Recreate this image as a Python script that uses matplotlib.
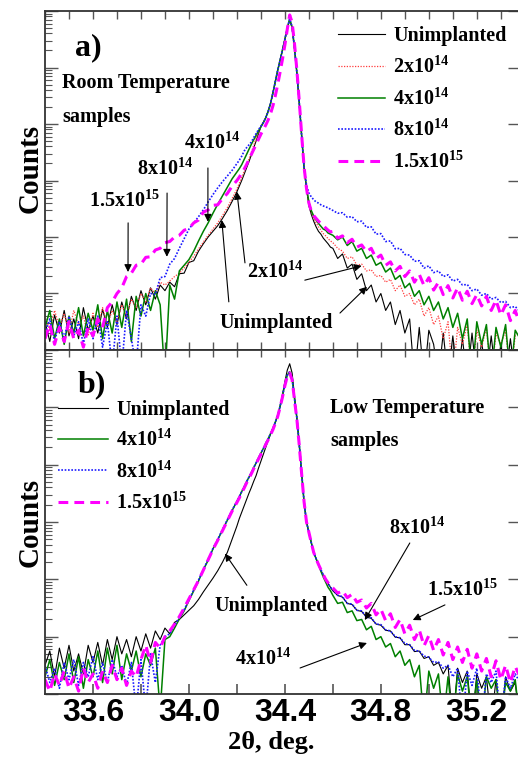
import numpy as np
import matplotlib
matplotlib.use("Agg")
import matplotlib.pyplot as plt
from matplotlib.ticker import LogLocator, NullFormatter, MultipleLocator, FixedLocator
from matplotlib import font_manager

# ---------------- data (2theta in deg, log10 of counts) ----------------
two_theta = [33.40, 33.42, 33.44, 33.46, 33.48, 33.50, 33.52, 33.54, 33.56, 33.58,
             33.60, 33.62, 33.64, 33.66, 33.68, 33.70, 33.72, 33.74, 33.76, 33.78,
             33.80, 33.82, 33.84, 33.86, 33.88, 33.90, 33.92, 33.94, 33.96, 33.98,
             34.00, 34.02, 34.04, 34.06, 34.08, 34.10, 34.12, 34.14, 34.16, 34.18,
             34.20, 34.21, 34.22, 34.23, 34.24, 34.25, 34.26, 34.27, 34.28, 34.29,
             34.30, 34.31, 34.32, 34.33, 34.34, 34.35, 34.36, 34.37, 34.38, 34.39,
             34.40, 34.41, 34.42, 34.43, 34.44, 34.45, 34.46, 34.47, 34.48, 34.49,
             34.50, 34.51, 34.52, 34.53, 34.54, 34.55, 34.56, 34.57, 34.58, 34.59,
             34.60, 34.62, 34.64, 34.66, 34.68, 34.70, 34.72, 34.74, 34.76, 34.78,
             34.80, 34.82, 34.84, 34.86, 34.88, 34.90, 34.92, 34.94, 34.96, 34.98,
             35.00, 35.02, 35.04, 35.06, 35.08, 35.10, 35.12, 35.14, 35.16, 35.18,
             35.20, 35.22, 35.24, 35.26, 35.28, 35.30, 35.32, 35.34, 35.36, 35.38]

labels = ["Unimplanted", r"2x10$^{14}$", r"4x10$^{14}$", r"8x10$^{14}$", r"1.5x10$^{15}$"]

# Panel a) room temperature samples
a_unimplanted = [0.50, 0.15, 0.62, 0.30, 0.70, 0.25, 0.55, 0.20, 0.75, 0.35,
                 0.60, 0.30, 0.72, 0.40, 0.80, 0.45, 0.85, 0.55, 0.95, 0.70,
                 1.05, 0.80, 1.10, 0.90, 1.15, 1.05, 1.20, 1.12, 1.35, 1.36,
                 1.55, 1.58, 1.75, 1.88, 2.00, 2.10, 2.20, 2.33, 2.47, 2.63,
                 2.80, 2.90, 3.00, 3.11, 3.22, 3.33, 3.45, 3.58, 3.70, 3.83,
                 3.95, 4.03, 4.11, 4.22, 4.36, 4.55, 4.75, 4.95, 5.13, 5.31,
                 5.50, 5.70, 5.84, 5.70, 5.33, 4.90, 4.37, 3.78, 3.22, 2.85,
                 2.55, 2.40, 2.28, 2.18, 2.10, 2.05, 1.98, 1.93, 1.88, 1.82,
                 1.80, 1.62, 1.70, 1.45, 1.52, 1.25, 1.35, 1.05, 1.15, 0.85,
                 1.00, 0.70, 0.85, 0.45, 0.70, 0.30, 0.55, -0.5, 0.40, -0.5,
                 0.35, 0.10, -0.5, 0.30, -0.5, 0.25, -0.5, 0.20, -0.5, 0.30,
                 -0.5, 0.15, -0.5, 0.25, -0.5, 0.10, -0.5, 0.20, -0.5, 0.15]
a_2e14 = [0.60, 0.35, 0.70, 0.40, 0.65, 0.30, 0.70, 0.45, 0.60, 0.25,
          0.65, 0.40, 0.75, 0.45, 0.70, 0.50, 0.80, 0.60, 0.90, 0.75,
          1.00, 0.85, 1.10, 1.00, 1.20, 1.15, 1.22, 1.30, 1.36, 1.45,
          1.55, 1.66, 1.79, 1.91, 2.03, 2.14, 2.25, 2.38, 2.52, 2.68,
          2.85, 2.95, 3.05, 3.16, 3.27, 3.38, 3.50, 3.62, 3.74, 3.86,
          3.96, 4.03, 4.11, 4.22, 4.36, 4.55, 4.75, 4.95, 5.13, 5.31,
          5.50, 5.70, 5.85, 5.71, 5.34, 4.90, 4.37, 3.78, 3.22, 2.86,
          2.58, 2.44, 2.33, 2.25, 2.18, 2.12, 2.06, 2.02, 1.97, 1.93,
          1.90, 1.80, 1.75, 1.62, 1.65, 1.50, 1.52, 1.40, 1.42, 1.30,
          1.32, 1.20, 1.25, 1.05, 1.15, 0.95, 1.00, 0.80, 0.90, 0.60,
          0.75, 0.45, 0.60, 0.20, 0.50, -0.5, 0.40, 0.10, 0.45, -0.5,
          0.35, 0.05, 0.40, -0.5, 0.30, 0.10, 0.35, -0.5, 0.25, 0.30]
a_4e14 = [0.40, 0.70, 0.20, 0.55, 0.10, 0.60, 0.30, 0.75, 0.25, 0.65,
          0.35, 0.80, 0.20, 0.70, 0.30, 0.85, 0.40, 0.90, 0.15, 0.95,
          0.60, 1.00, 0.70, 1.05, 0.80, -0.5, 1.15, 0.90, 1.40, 1.50,
          1.60, 1.75, 1.93, 2.10, 2.25, 2.42, 2.58, 2.73, 2.88, 3.03,
          3.15, 3.21, 3.28, 3.37, 3.46, 3.55, 3.64, 3.72, 3.80, 3.88,
          3.95, 4.02, 4.11, 4.22, 4.36, 4.55, 4.75, 4.95, 5.13, 5.31,
          5.50, 5.70, 5.86, 5.72, 5.35, 4.90, 4.37, 3.78, 3.22, 2.88,
          2.62, 2.47, 2.37, 2.30, 2.24, 2.19, 2.14, 2.12, 2.07, 2.05,
          2.03, 1.95, 2.00, 1.85, 1.92, 1.75, 1.80, 1.62, 1.68, 1.50,
          1.55, 1.38, 1.45, 1.25, 1.32, 1.10, 1.18, 0.95, 1.05, 0.80,
          0.95, 0.70, 0.85, 0.55, 0.75, 0.40, 0.65, 0.20, 0.55, -0.5,
          0.50, 0.10, 0.45, -0.5, 0.40, 0.05, 0.45, -0.5, 0.35, 0.20]
a_8e14 = [0.30, 0.55, 0.15, 0.50, 0.20, 0.60, 0.25, 0.50, 0.10, 0.55,
          0.20, 0.60, 0.05, 0.50, -0.3, 0.60, -0.3, 0.70, 0.20, -0.3,
          0.80, 0.60, 1.00, 0.98, 1.28, 1.30, 1.52, 1.62, 1.80, 1.97,
          2.14, 2.25, 2.36, 2.48, 2.62, 2.75, 2.87, 2.98, 3.08, 3.18,
          3.30, 3.36, 3.43, 3.52, 3.58, 3.63, 3.68, 3.76, 3.83, 3.90,
          3.96, 4.02, 4.11, 4.22, 4.36, 4.55, 4.75, 4.95, 5.13, 5.31,
          5.50, 5.70, 5.86, 5.72, 5.35, 4.90, 4.37, 3.78, 3.22, 2.92,
          2.78, 2.71, 2.66, 2.62, 2.60, 2.57, 2.55, 2.53, 2.52, 2.49,
          2.47, 2.42, 2.43, 2.35, 2.36, 2.27, 2.28, 2.17, 2.18, 2.05,
          2.06, 1.92, 1.93, 1.79, 1.80, 1.69, 1.68, 1.57, 1.58, 1.45,
          1.49, 1.37, 1.40, 1.30, 1.33, 1.22, 1.25, 1.15, 1.16, 1.05,
          1.08, 0.97, 1.00, 0.90, 0.93, 0.84, 0.86, 0.75, 0.77, 0.68]
a_15e15 = [0.20, 0.45, 0.10, 0.40, 0.15, 0.50, 0.20, 0.35, 0.05, 0.40,
           0.25, 0.55, 0.40, 0.75, 0.85, 1.00, 1.10, 1.30, 1.36, 1.50,
           1.52, 1.64, 1.65, 1.77, 1.80, 1.90, 1.92, 2.00, 2.03, 2.12,
           2.15, 2.25, 2.30, 2.44, 2.48, 2.56, 2.57, 2.68, 2.77, 2.90,
           3.00, 3.06, 3.13, 3.20, 3.28, 3.37, 3.46, 3.55, 3.64, 3.73,
           3.82, 3.90, 3.98, 4.07, 4.18, 4.32, 4.50, 4.70, 4.92, 5.15,
           5.40, 5.68, 5.93, 5.80, 5.42, 4.95, 4.40, 3.80, 3.24, 2.86,
           2.60, 2.46, 2.38, 2.33, 2.28, 2.24, 2.20, 2.16, 2.12, 2.09,
           2.10, 1.98, 2.02, 1.90, 1.96, 1.82, 1.86, 1.74, 1.80, 1.62,
           1.68, 1.50, 1.56, 1.40, 1.48, 1.30, 1.40, 1.20, 1.34, 1.14,
           1.28, 1.06, 1.20, 0.98, 1.14, 0.92, 1.10, 0.88, 1.04, 0.82,
           0.98, 0.78, 0.95, 0.70, 0.88, 0.62, 0.80, 0.52, 0.70, 0.45]

# Panel b) low temperature samples
b_unimplanted = [0.50, 0.75, 0.30, 0.80, 0.45, 0.85, 0.40, 0.70, 0.35, 0.85,
                 0.55, 0.90, 0.50, 0.95, 0.60, 1.00, 0.70, 0.95, 0.65, 1.00,
                 0.75, 1.05, 0.80, 1.10, 0.95, 1.15, 1.05, 1.25, 1.30, 1.38,
                 1.46, 1.54, 1.65, 1.78, 1.90, 2.02, 2.15, 2.30, 2.47, 2.70,
                 2.93, 3.06, 3.17, 3.28, 3.39, 3.50, 3.60, 3.71, 3.81, 3.94,
                 4.06, 4.18, 4.30, 4.42, 4.53, 4.63, 4.74, 4.86, 5.02, 5.22,
                 5.45, 5.65, 5.76, 5.60, 5.20, 4.81, 4.33, 3.83, 3.33, 3.00,
                 2.82, 2.64, 2.47, 2.36, 2.26, 2.16, 2.07, 2.00, 1.93, 1.86,
                 1.80, 1.72, 1.69, 1.58, 1.56, 1.46, 1.44, 1.34, 1.32, 1.22,
                 1.20, 1.11, 1.10, 0.99, 0.98, 0.86, 0.86, 0.74, 0.75, 0.62,
                 0.65, 0.50, 0.55, 0.35, 0.50, -0.5, 0.45, 0.20, 0.40, -0.5,
                 0.35, 0.10, 0.30, -0.5, 0.25, -0.5, 0.30, 0.05, 0.20, -0.5]
b_4e14 = [0.30, 0.60, 0.15, 0.55, 0.25, 0.70, 0.20, 0.65, 0.10, 0.60,
          0.30, 0.75, 0.20, 0.80, 0.35, 0.85, 0.25, 0.70, 0.40, 0.75,
          0.30, 0.70, 0.50, 0.80, -0.3, 0.95, 1.00, 1.15, 1.31, 1.45,
          1.63, 1.80, 1.97, 2.17, 2.33, 2.53, 2.69, 2.86, 3.03, 3.20,
          3.36, 3.44, 3.53, 3.61, 3.70, 3.78, 3.86, 3.95, 4.03, 4.12,
          4.20, 4.28, 4.37, 4.45, 4.54, 4.63, 4.74, 4.86, 5.02, 5.20,
          5.40, 5.56, 5.62, 5.50, 5.15, 4.81, 4.35, 3.85, 3.35, 3.00,
          2.82, 2.64, 2.47, 2.36, 2.26, 2.14, 2.04, 1.95, 1.86, 1.80,
          1.72, 1.58, 1.60, 1.42, 1.45, 1.28, 1.30, 1.12, 1.18, 0.95,
          1.00, 0.82, 0.88, 0.65, 0.75, 0.50, 0.60, 0.30, 0.50, -0.5,
          0.40, 0.10, 0.35, -0.5, 0.30, -0.5, 0.35, 0.05, 0.30, -0.5,
          0.25, -0.5, 0.30, 0.10, 0.25, -0.5, 0.20, 0.05, 0.25, -0.5]
b_8e14 = [0.50, 0.20, 0.45, 0.10, 0.55, 0.25, 0.60, 0.15, 0.55, 0.30,
          0.65, 0.25, 0.55, 0.20, 0.60, 0.30, 0.50, 0.15, 0.55, -0.3,
          0.60, -0.3, 0.70, 0.20, 0.85, 1.00, 1.05, 1.20, 1.33, 1.47,
          1.64, 1.82, 1.99, 2.17, 2.35, 2.54, 2.70, 2.87, 3.04, 3.21,
          3.36, 3.44, 3.53, 3.61, 3.70, 3.78, 3.86, 3.95, 4.03, 4.12,
          4.20, 4.28, 4.37, 4.45, 4.54, 4.63, 4.74, 4.86, 5.02, 5.20,
          5.40, 5.56, 5.62, 5.50, 5.15, 4.81, 4.35, 3.85, 3.35, 3.00,
          2.82, 2.64, 2.47, 2.36, 2.26, 2.17, 2.08, 2.00, 1.93, 1.86,
          1.82, 1.72, 1.70, 1.58, 1.57, 1.46, 1.45, 1.34, 1.33, 1.22,
          1.21, 1.12, 1.10, 1.00, 0.98, 0.88, 0.86, 0.76, 0.75, 0.66,
          0.64, 0.55, 0.56, 0.45, 0.50, 0.30, 0.45, -0.5, 0.40, 0.15,
          0.45, -0.5, 0.35, 0.20, 0.40, -0.5, 0.30, 0.10, 0.35, 0.20]
b_15e15 = [0.25, 0.05, 0.35, 0.15, 0.40, 0.10, 0.30, 0.05, 0.45, 0.20,
           0.35, 0.10, 0.40, 0.20, 0.50, 0.25, 0.45, 0.15, 0.40, 0.30,
           0.60, 0.85, 0.55, 0.90, 0.80, 1.00, 1.10, 1.22, 1.35, 1.50,
           1.66, 1.82, 1.98, 2.16, 2.34, 2.52, 2.68, 2.85, 3.02, 3.19,
           3.34, 3.42, 3.51, 3.59, 3.68, 3.76, 3.84, 3.93, 4.01, 4.10,
           4.18, 4.26, 4.35, 4.43, 4.52, 4.61, 4.72, 4.84, 5.00, 5.18,
           5.38, 5.54, 5.60, 5.48, 5.13, 4.79, 4.33, 3.83, 3.35, 3.00,
           2.82, 2.64, 2.47, 2.36, 2.26, 2.17, 2.08, 2.00, 1.94, 1.88,
           1.85, 1.76, 1.80, 1.68, 1.74, 1.60, 1.64, 1.50, 1.58, 1.38,
           1.48, 1.28, 1.40, 1.16, 1.30, 1.05, 1.20, 0.95, 1.12, 0.84,
           1.02, 0.76, 0.95, 0.68, 0.90, 0.60, 0.82, 0.55, 0.78, 0.45,
           0.70, 0.40, 0.62, 0.30, 0.58, 0.25, 0.50, 0.20, 0.48, 0.30]

for s in (a_unimplanted, a_2e14, a_4e14, a_8e14, a_15e15,
          b_unimplanted, b_4e14, b_8e14, b_15e15):
    assert len(s) == len(two_theta)

# ---------------- styling ----------------
plt.rcParams["font.family"] = ["Liberation Serif", "DejaVu Serif"]
plt.rcParams["font.weight"] = "bold"
plt.rcParams["mathtext.fontset"] = "custom"
plt.rcParams["mathtext.rm"] = "Liberation Serif:bold"
plt.rcParams["mathtext.it"] = "Liberation Serif:italic:bold"
plt.rcParams["mathtext.bf"] = "Liberation Serif:bold"

try:
    font_manager.findfont(font_manager.FontProperties(family="Liberation Sans Narrow", weight="bold"),
                          fallback_to_default=False)
    tick_family = "Liberation Sans Narrow"
except Exception:
    tick_family = "Liberation Sans"

styles = [dict(color="black", lw=0.8, ls="-"),
          dict(color="#ff3c3c", lw=0.9, ls=(0, (1, 1.2))),
          dict(color="#008000", lw=1.1, ls="-"),
          dict(color="#1a1aff", lw=1.2, ls=(0, (1, 1))),
          dict(color="#ff00ff", lw=2.2, ls=(0, (3.2, 2)))]

W, H = 518, 758
fig = plt.figure(figsize=(W / 100, H / 100), dpi=100)
ax_a = fig.add_axes([45 / W, 1 - 350 / H, 475 / W, 339 / H])
ax_b = fig.add_axes([45 / W, 1 - 694 / H, 475 / W, 344 / H])

x = np.array(two_theta)
for vals, lab, st in zip([a_unimplanted, a_2e14, a_4e14, a_8e14, a_15e15], labels, styles):
    ax_a.plot(x, 10 ** np.array(vals), label=lab, **st)
for vals, lab, st in zip([b_unimplanted, b_4e14, b_8e14, b_15e15],
                         [labels[0], labels[2], labels[3], labels[4]],
                         [styles[0], styles[2], styles[3], styles[4]]):
    ax_b.plot(x, 10 ** np.array(vals), label=lab, **st)

spine_col = "#333333"
tick_col = "#555555"
for ax in (ax_a, ax_b):
    ax.set_yscale("log")
    ax.set_ylim(1, 1e6)
    ax.set_xlim(33.4, 35.38)
    for sp in ax.spines.values():
        sp.set_color(spine_col)
        sp.set_linewidth(1.3)
    ax.yaxis.set_major_locator(LogLocator(base=10, numticks=10))
    ax.yaxis.set_minor_locator(LogLocator(base=10, subs=np.arange(2, 10), numticks=30))
    ax.yaxis.set_major_formatter(NullFormatter())
    ax.yaxis.set_minor_formatter(NullFormatter())
    ax.tick_params(axis="y", which="major", direction="in", length=9, width=1,
                   color=tick_col, left=True, right=True)
    ax.tick_params(axis="y", which="minor", direction="in", length=5, width=0.8,
                   color=tick_col, left=True, right=False)

ax_a.xaxis.set_major_locator(MultipleLocator(0.1))
ax_a.xaxis.set_minor_locator(FixedLocator([]))
ax_a.tick_params(axis="x", which="major", direction="in", length=6, width=1,
                 color=tick_col, top=True, bottom=True, labelbottom=False)

ax_b.xaxis.set_major_locator(FixedLocator([33.6, 34.0, 34.4, 34.8, 35.2]))
ax_b.xaxis.set_minor_locator(FixedLocator([33.8, 34.2, 34.6, 35.0]))
ax_b.tick_params(axis="x", which="both", direction="in", length=7, width=1.2,
                 color=tick_col, top=False, bottom=True, pad=3)
ax_b.set_xticklabels(["33.6", "34.0", "34.4", "34.8", "35.2"],
                     fontfamily=tick_family, fontweight="bold", fontsize=23)
sec = ax_b.secondary_xaxis("top")
sec.xaxis.set_major_locator(MultipleLocator(0.1))
sec.tick_params(axis="x", direction="in", length=5, width=1, color=tick_col, labeltop=False)
sec.spines["top"].set_visible(False)

# labels
fs = 14.5
fig.text(30 / W, 1 - 168 / H, "Counts", rotation=90, ha="center", va="center", fontsize=21)
fig.text(30 / W, 1 - 522 / H, "Counts", rotation=90, ha="center", va="center", fontsize=21)
fig.text(271 / W, 1 - 742 / H, "2θ, deg.", ha="center", va="center", fontsize=19)

ax_a.text(0.0905, 0.891, "a)", transform=ax_a.transAxes, ha="center", va="center", fontsize=23)
ax_b.text(0.099, 0.898, "b)", transform=ax_b.transAxes, ha="center", va="center", fontsize=23)
ax_a.text(0.036, 0.788, "Room Temperature", transform=ax_a.transAxes, ha="left", va="center", fontsize=fs)
ax_a.text(0.036, 0.687, "samples", transform=ax_a.transAxes, ha="left", va="center", fontsize=fs)
ax_b.text(0.60, 0.831, "Low Temperature", transform=ax_b.transAxes, ha="left", va="center", fontsize=fs)
ax_b.text(0.60, 0.735, "samples", transform=ax_b.transAxes, ha="left", va="center", fontsize=fs)

leg_a = ax_a.legend(loc="upper left", bbox_to_anchor=(0.617, 0.955), frameon=False, fontsize=fs,
                    handlelength=2.35, handletextpad=0.4, labelspacing=0.52,
                    borderpad=0, borderaxespad=0)
leg_b = ax_b.legend(loc="upper left", bbox_to_anchor=(0.027, 0.855), frameon=False, fontsize=fs,
                    handlelength=2.5, handletextpad=0.4, labelspacing=0.5,
                    borderpad=0, borderaxespad=0)

arrow = dict(arrowstyle="-|>", color="black", lw=0.8, mutation_scale=11, shrinkA=0, shrinkB=0)

def note(ax, text, pos):
    ax.text(pos[0], pos[1], text, transform=ax.transAxes, ha="center", va="center", fontsize=fs)

def arr(ax, tail, tip_d, tip_log):
    ax.annotate("", xy=(tip_d, 10 ** tip_log), xycoords="data",
                xytext=tail, textcoords="axes fraction", arrowprops=arrow)

# panel a annotations
note(ax_a, r"4x10$^{14}$", (0.352, 0.611))
note(ax_a, r"8x10$^{14}$", (0.253, 0.534))
note(ax_a, r"1.5x10$^{15}$", (0.168, 0.44))
note(ax_a, r"2x10$^{14}$", (0.484, 0.230))
note(ax_a, "Unimplanted", (0.486, 0.080))
arr(ax_a, (0.175, 0.375), 33.746, 1.38)
arr(ax_a, (0.257, 0.463), 33.908, 1.65)
arr(ax_a, (0.343, 0.537), 34.079, 2.27)
arr(ax_a, (0.421, 0.257), 34.20, 2.80)
arr(ax_a, (0.547, 0.206), 34.72, 1.49)
arr(ax_a, (0.387, 0.142), 34.137, 2.30)
arr(ax_a, (0.621, 0.109), 34.742, 1.12)

# panel b annotations
note(ax_b, "Unimplanted", (0.476, 0.256))
note(ax_b, r"8x10$^{14}$", (0.783, 0.483))
note(ax_b, r"1.5x10$^{15}$", (0.88, 0.302))
note(ax_b, r"4x10$^{14}$", (0.459, 0.102))
arr(ax_b, (0.425, 0.316), 34.15, 2.45)
arr(ax_b, (0.768, 0.439), 34.733, 1.29)
arr(ax_b, (0.842, 0.259), 34.933, 1.29)
arr(ax_b, (0.537, 0.0756), 34.742, 0.89)

fig.savefig("out.png", dpi=100)
